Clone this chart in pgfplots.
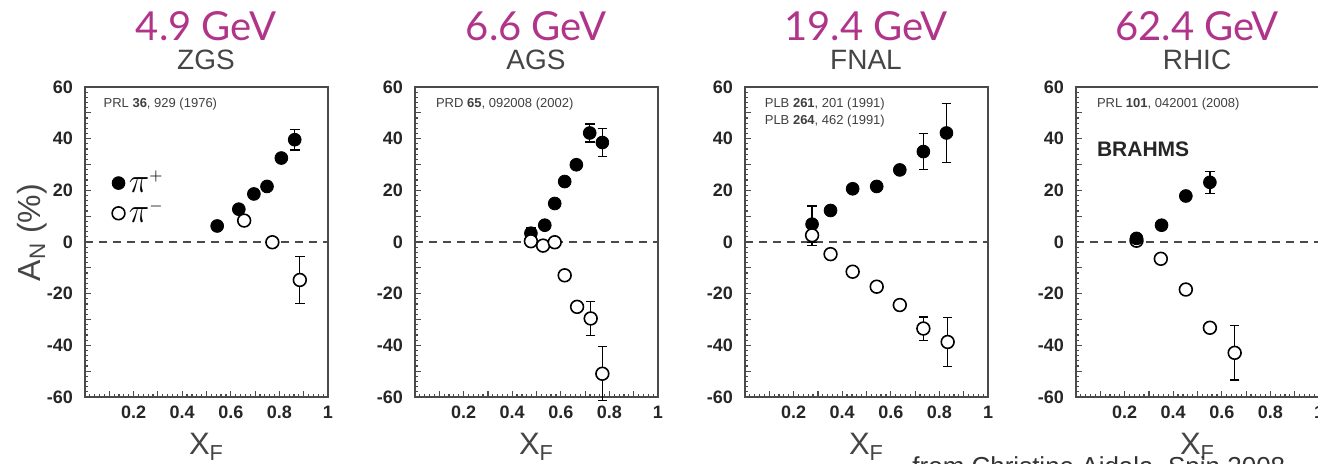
\documentclass[border=0pt]{standalone}
\usepackage{fontspec}
\setmainfont{Liberation Sans}
\newfontfamily\titlefont{Lato}
\usepackage{pgfplots}
\usepackage{pgfplotstable}
\pgfplotsset{compat=1.18}
\definecolor{TitleMagenta}{HTML}{B0358A}
\definecolor{SubGray}{HTML}{454545}
\definecolor{AxisGray}{HTML}{4A4A4A}

% x_F, A_N (%), error
\pgfplotstableread{
x y e
0.544 6.2 0
0.633 12.7 0
0.695 18.6 0
0.749 21.5 0
0.808 32.5 0
0.863 39.6 4
}\zgsplus
\pgfplotstableread{
x y e
0.655 8.3 0
0.771 -0.1 0
0.884 -14.7 9
}\zgsminus
\pgfplotstableread{
x y e
0.477 3.4 2
0.534 6.5 0
0.575 14.9 0
0.616 23.4 0
0.664 29.9 0
0.719 42.2 3.5
0.771 38.5 5.5
}\agsplus
\pgfplotstableread{
x y e
0.477 0.3 0
0.527 -1.4 0
0.575 -0.1 0
0.616 -12.9 0
0.667 -25.1 0
0.723 -29.6 6.5
0.771 -51.0 10.5
}\agsminus
\pgfplotstableread{
x y e
0.276 6.9 7
0.352 12.2 0
0.443 20.6 0
0.542 21.5 0
0.637 27.9 0
0.734 35.0 7
0.829 42.2 11.5
}\fnalplus
\pgfplotstableread{
x y e
0.276 2.6 4
0.352 -4.7 0
0.443 -11.5 0
0.542 -17.3 0
0.637 -24.4 0
0.734 -33.5 4.5
0.834 -38.7 9.5
}\fnalminus
\pgfplotstableread{
x y e
0.249 1.4 0
0.352 6.5 0
0.452 17.8 0
0.551 23.1 4.3
}\rhicplus
\pgfplotstableread{
x y e
0.249 0.5 0
0.349 -6.5 0
0.452 -18.4 0
0.551 -33.2 0
0.653 -42.9 10.5
}\rhicminus

\tikzset{
  refnote/.style={font=\fontsize{6.5}{7.5}\selectfont, text=black!75, anchor=north west, inner sep=0pt, align=left},
}
\pgfplotsset{
  panel/.style={
    scale only axis, width=121.5pt, height=155pt,
    anchor=south west,
    xmin=0, xmax=1, ymin=-60, ymax=60,
    axis line style={AxisGray, line width=0.9pt},
    tick style={AxisGray, line width=0.6pt},
    tick align=inside, xtick pos=bottom, ytick pos=left,
    major tick length=2.8pt, minor tick length=1.4pt,
    xtick={0,0.1,0.2,0.3,0.4,0.5,0.6,0.7,0.8,0.9,1},
    xticklabels={,,0.2,,0.4,,0.6,,0.8,,1},
    ytick={-60,-50,-40,-30,-20,-10,0,10,20,30,40,50,60},
    yticklabels={-60,,-40,,-20,,0,,20,,40,,60},
    minor x tick num=4, minor y tick num=4,
    ticklabel style={font=\bfseries\fontsize{9}{9}\selectfont, text=black!85},
    xticklabel style={yshift=-1pt},
    yticklabel style={xshift=-2.5pt},
    xlabel={X\textsubscript{F}},
    xlabel style={font=\fontsize{15.5}{15.5}\selectfont, text=SubGray,
      at={(axis description cs:0.5,0)}, anchor=base, yshift=-29pt},
    clip=false,
  },
  zeroline/.style={forget plot, AxisGray, line width=0.8pt, dash pattern=on 4pt off 3pt},
  pplus/.style={only marks, black, mark=*, mark size=3.2pt,
    error bars/.cd, y dir=both, y explicit,
    error bar style={line width=0.6pt},
    error mark options={rotate=90, mark size=2.4pt, line width=0.6pt}},
  pminus/.style={only marks, black, mark=*, mark size=3.2pt,
    mark options={fill=white, line width=0.8pt},
    error bars/.cd, y dir=both, y explicit,
    error bar style={line width=0.6pt},
    error mark options={rotate=90, mark size=2.4pt, line width=0.6pt}},
}

\begin{document}
\begin{tikzpicture}

\begin{axis}[panel, at={(42.5pt,33.5pt)},
    ylabel={A\textsubscript{N} (\%)},
    ylabel style={font=\fontsize{16}{16}\selectfont, text=SubGray,
      at={(axis description cs:-0.185,0.53)}, anchor=base},
    legend style={draw=none, fill=none, at={(0.11,0.732)}, anchor=north west,
      font=\fontsize{16}{16}\selectfont, row sep=2.5pt, inner sep=0pt,
      nodes={inner xsep=2pt, inner ysep=0pt}},
    legend cell align=left]
  \addplot[zeroline] coordinates {(0,0) (1,0)};
  \addplot[pplus] table[x=x, y=y, y error=e] {\zgsplus};
  \addplot[pminus] table[x=x, y=y, y error=e] {\zgsminus};
  \legend{$\pi^{\scriptscriptstyle+}$, $\pi^{\scriptscriptstyle-}$}
  \node[refnote] at (rel axis cs:0.075,0.965) {PRL \textbf{36}, 929 (1976)};
\end{axis}

\begin{axis}[panel, at={(207.5pt,33.5pt)}]
  \addplot[zeroline] coordinates {(0,0) (1,0)};
  \addplot[pplus] table[x=x, y=y, y error=e] {\agsplus};
  \addplot[pminus] table[x=x, y=y, y error=e] {\agsminus};
  \node[refnote] at (rel axis cs:0.085,0.965) {PRD \textbf{65}, 092008 (2002)};
\end{axis}

\begin{axis}[panel, at={(372.5pt,33.5pt)}]
  \addplot[zeroline] coordinates {(0,0) (1,0)};
  \addplot[pplus] table[x=x, y=y, y error=e] {\fnalplus};
  \addplot[pminus] table[x=x, y=y, y error=e] {\fnalminus};
  \node[refnote] at (rel axis cs:0.08,0.965) {PLB \textbf{261}, 201 (1991)\\[1pt]PLB \textbf{264}, 462 (1991)};
\end{axis}

\begin{axis}[panel, at={(538pt,33.5pt)}]
  \addplot[zeroline] coordinates {(0,0) (1,0)};
  \addplot[pminus] table[x=x, y=y, y error=e] {\rhicminus};
  \addplot[pplus] table[x=x, y=y, y error=e] {\rhicplus};
  \node[refnote] at (rel axis cs:0.085,0.965) {PRL \textbf{101}, 042001 (2008)};
  \node[anchor=west, inner sep=0pt, font=\bfseries\fontsize{10.5}{10.5}\selectfont, text=black!85]
    at (rel axis cs:0.085,0.80) {BRAHMS};
\end{axis}

% titles
\foreach \cx/\gev/\lab in {103/4.9/ZGS, 268/6.6/AGS, 433/19.4/FNAL, 598.5/62.4/RHIC}{
  \node[font=\titlefont\fontsize{20}{20}\selectfont, text=TitleMagenta] at (\cx pt,219pt) {\gev{} GeV};
  \node[font=\fontsize{14}{14}\selectfont, text=SubGray] at (\cx pt,202pt) {\lab};
}
\node[anchor=base west, inner sep=0pt, font=\fontsize{13}{13}\selectfont, text=black!80]
  at (456pt,-6pt) {from Christine Aidala, Spin 2008};

\pgfresetboundingbox
\useasboundingbox (0,0) rectangle (659pt,232pt);
\end{tikzpicture}
\end{document}
